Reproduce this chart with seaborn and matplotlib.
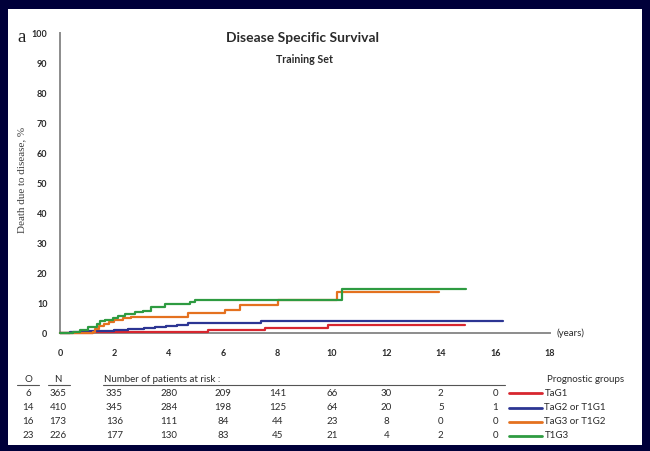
import numpy as np
import pandas as pd
import matplotlib
matplotlib.use('Agg')
import matplotlib.pyplot as plt
import matplotlib.transforms as mtransforms
from matplotlib.lines import Line2D
from matplotlib.patches import Rectangle
import seaborn as sns

# ---------------- data ----------------
groups = ['TaG1', 'TaG2 or T1G1', 'TaG3 or T1G2', 'T1G3']
colors = ['#d7262f', '#2c3593', '#e4711f', '#2e9b41']

tag1_time = [0, 1.2, 2.5, 3.0, 5.45, 7.54, 9.85, 14.9]
tag1_pct = [0, 0.3, 0.5, 0.6, 1.1, 1.9, 2.8, 2.8]

tag2_time = [0, 0.35, 0.9, 1.5, 2.0, 2.5, 3.1, 3.5, 3.9, 4.3, 4.7, 5.5, 7.4, 16.27]
tag2_pct = [0, 0.3, 0.7, 0.9, 1.2, 1.5, 1.9, 2.2, 2.5, 2.8, 3.3, 3.6, 4.0, 4.0]

tag3_time = [0, 1.2, 1.3, 1.45, 1.6, 1.8, 2.0, 2.3, 2.6, 2.9, 4.72, 6.07, 6.6, 8.0, 10.17, 13.95]
tag3_pct = [0, 0.6, 1.5, 2.5, 3.2, 3.9, 4.5, 5.0, 5.3, 5.6, 6.9, 7.9, 9.6, 11.0, 13.9, 13.9]

t1g3_time = [0, 0.49, 0.74, 1.04, 1.35, 1.47, 1.65, 1.96, 2.15, 2.39, 2.75, 3.06, 3.36,
             3.86, 4.78, 4.95, 10.35, 14.93]
t1g3_pct = [0, 0.6, 1.1, 2.0, 3.0, 4.1, 4.4, 5.2, 5.9, 6.4, 7.0, 7.5, 8.7,
            9.8, 10.3, 11.2, 14.9, 14.9]

observed = [6, 14, 16, 23]
n_total = [365, 410, 173, 226]
risk_times = [2, 4, 6, 8, 10, 12, 14, 16]
risk_tag1 = [335, 280, 209, 141, 66, 30, 2, 0]
risk_tag2 = [345, 284, 198, 125, 64, 20, 5, 1]
risk_tag3 = [136, 111, 84, 44, 23, 8, 0, 0]
risk_t1g3 = [177, 130, 83, 45, 21, 4, 2, 0]

x_ticks = list(range(0, 19, 2))
y_ticks = list(range(0, 101, 10))

series_time = [tag1_time, tag2_time, tag3_time, t1g3_time]
series_pct = [tag1_pct, tag2_pct, tag3_pct, t1g3_pct]
risk_rows = [risk_tag1, risk_tag2, risk_tag3, risk_t1g3]

df = pd.concat([pd.DataFrame({'time': t, 'pct': p, 'group': g})
                for t, p, g in zip(series_time, series_pct, groups)], ignore_index=True)

# ---------------- style ----------------
sns.set_style('white')
plt.rcParams['font.family'] = ['Lato', 'DejaVu Sans']

W, H = 650, 451
fx = lambda px: px / W
fy = lambda py: 1 - py / H

fig = plt.figure(figsize=(6.5, 4.51), dpi=100)
fig.patch.set_facecolor('#00003a')
fig.add_artist(Rectangle((fx(7.5), fy(445)), fx(642) - fx(7.5), fy(9) - fy(445),
                         transform=fig.transFigure, facecolor='white',
                         edgecolor='none', zorder=0))

ax = fig.add_axes([fx(60), fy(333.3), (549.6 - 60) / W, 300 / H])
ax.patch.set_alpha(0)

sns.lineplot(data=df, x='time', y='pct', hue='group', hue_order=groups,
             palette=colors, drawstyle='steps-post', estimator=None,
             linewidth=1.6, legend=False, ax=ax, zorder=3, clip_on=False)

ax.set_xlim(0, 18)
ax.set_ylim(0, 100)
ax.set_xticks(x_ticks)
ax.set_yticks(y_ticks)
ax.set_xlabel('')
for s in ['top', 'right']:
    ax.spines[s].set_visible(False)
for s in ['left', 'bottom']:
    ax.spines[s].set_color('#8c8c8c')
    ax.spines[s].set_linewidth(1.4)
ax.tick_params(axis='both', colors='#8c8c8c', width=1.2, length=5,
               labelsize=6.5, labelcolor='#2a2a2a', direction='out')
ax.tick_params(axis='y', pad=4)
ax.tick_params(axis='x', pad=6)
for lab in ax.get_xticklabels() + ax.get_yticklabels():
    lab.set_fontweight('bold')

ax.set_ylabel('Death due to disease, %', family=['Liberation Serif', 'DejaVu Serif'],
              fontsize=8, color='#404040')
ax.yaxis.set_label_coords((26 - 60) / 489.6, (333.3 - 180) / 300)

ax.text(18.25, 0, '(years)', ha='left', va='center', fontsize=7,
        color='#2a2a2a', clip_on=False)

# panel letter and titles
fig.text(fx(17), fy(42), 'a', family=['Liberation Serif', 'DejaVu Serif'],
         fontsize=13.5, ha='left', va='baseline', color='#202020')
fig.text(fx(303), fy(37.5), 'Disease Specific Survival', ha='center', va='center',
         fontsize=10, fontweight='bold', color='#2a2a2a')
fig.text(fx(305), fy(59.5), 'Training Set', ha='center', va='center',
         fontsize=7.7, fontweight='bold', color='#2a2a2a')

# ---------------- risk table ----------------
tfs = 7
tc = '#2a2a2a'
trans = mtransforms.blended_transform_factory(ax.transData, fig.transFigure)
header_y = 379
row_y = [393.3, 407.7, 421.7, 435.7]

fig.text(fx(28), fy(header_y), 'O', ha='center', va='center', fontsize=tfs, color=tc)
fig.text(fx(58), fy(header_y), 'N', ha='center', va='center', fontsize=tfs, color=tc)
fig.text(fx(104), fy(header_y), 'Number of patients at risk :', ha='left', va='center',
         fontsize=tfs, color=tc)
fig.text(fx(547), fy(header_y), 'Prognostic groups', ha='left', va='center',
         fontsize=tfs, color=tc)
for x0, x1 in [(17, 39), (48, 70), (103, 505)]:
    fig.add_artist(Line2D([fx(x0), fx(x1)], [fy(385), fy(385)], transform=fig.transFigure,
                          color='#555555', linewidth=0.8))

for i, g in enumerate(groups):
    y = fy(row_y[i])
    fig.text(fx(28), y, str(observed[i]), ha='center', va='center', fontsize=tfs, color=tc)
    fig.text(fx(58), y, str(n_total[i]), ha='center', va='center', fontsize=tfs, color=tc)
    for t, v in zip(risk_times, risk_rows[i]):
        ax.text(t, y, str(v), transform=trans, ha='center', va='center',
                fontsize=tfs, color=tc, clip_on=False)
    fig.add_artist(Line2D([fx(509), fx(541.7)], [y, y], transform=fig.transFigure,
                          color=colors[i], linewidth=2.0))
    fig.text(fx(544.5), y, g, ha='left', va='center', fontsize=tfs, color=tc)

fig.savefig('out.png', dpi=100)
